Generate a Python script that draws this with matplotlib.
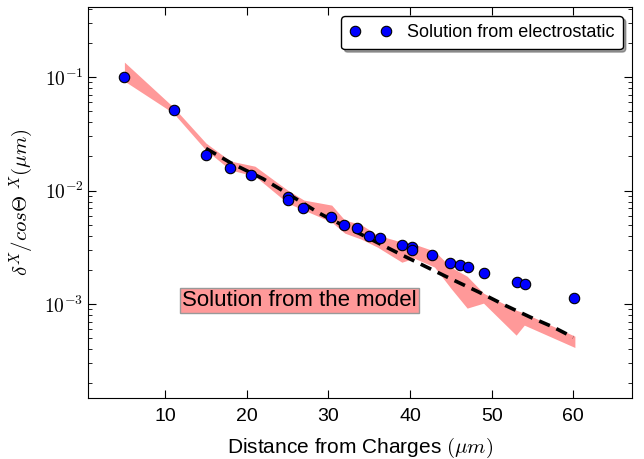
import numpy as np
import matplotlib
matplotlib.use('Agg')
import matplotlib.pyplot as plt
from matplotlib.ticker import FuncFormatter, NullFormatter

plt.rcParams['font.family'] = ['Liberation Sans', 'DejaVu Sans']
plt.rcParams['mathtext.fontset'] = 'cm'

# Solution from electrostatic (points)
dist = [5, 11.1, 15, 18, 20.5, 25, 25, 26.9, 30.3, 31.9, 33.5, 35, 36.3,
        39, 40.3, 40.3, 42.7, 44.9, 46.1, 47.1, 49.1, 53.1, 54.1, 60.1]
delta = [0.100, 0.051, 0.0205, 0.0157, 0.0137, 0.0088, 0.0082, 0.0070,
         0.0058, 0.0050, 0.00465, 0.0040, 0.0038, 0.00331, 0.00317, 0.00298,
         0.00271, 0.00231, 0.0022, 0.00212, 0.00188, 0.00156, 0.0015, 0.00114]

# Solution from the model (band)
model_x = [5, 11, 15, 18, 21, 25, 27, 30.4, 32, 34, 36, 39, 40.5, 43, 45,
           47, 49, 53, 54, 60.2]
model_hi = [0.1355, 0.0544, 0.0262, 0.0182, 0.0164, 0.0101, 0.00825, 0.00745,
            0.0055, 0.00502, 0.00405, 0.00352, 0.00338, 0.00293, 0.00212,
            0.00176, 0.00125, 0.000885, 0.000833, 0.000522]
model_lo = [0.0922, 0.0482, 0.0227, 0.0152, 0.0134, 0.00776, 0.00673, 0.00528,
            0.00422, 0.00374, 0.00318, 0.00234, 0.00254, 0.00212, 0.00138,
            0.000922, 0.00102, 0.000533, 0.000653, 0.000415]

# dashed fit
fit_x = [15, 18, 22, 25, 28.8, 30, 35, 39, 42.4, 45, 48.4, 51.6, 54.7, 57.5, 60]
fit_y = [0.0235, 0.0176, 0.0127, 0.0094, 0.00637, 0.00573, 0.00379, 0.00271,
         0.00206, 0.00167, 0.00128, 0.00098, 0.00077, 0.00063, 0.00051]

fig = plt.figure(figsize=(6.44, 4.59), dpi=100)
ax = fig.add_axes([0.1374, 0.1329, 0.8440, 0.8518])

ax.fill_between(model_x, model_lo, model_hi, color='red', alpha=0.4, linewidth=0)
ax.plot(fit_x, fit_y, color='black', linestyle='--', linewidth=2.6, dashes=(3.2, 2.0))
ax.plot(dist, delta, 'o', color='blue', markeredgecolor='black', markersize=7.5,
        markeredgewidth=0.8, label='Solution from electrostatic')

ax.set_yscale('log')
ax.set_xlim(0.6, 67.2)
ax.set_ylim(1.49e-4, 0.414)
ax.set_xticks([10, 20, 30, 40, 50, 60])
ax.yaxis.set_major_formatter(FuncFormatter(lambda v, p: r'$10^{%d}$' % round(np.log10(v))))
ax.yaxis.set_minor_formatter(NullFormatter())
ax.tick_params(which='both', direction='in', top=True, right=True)
ax.tick_params(which='major', length=6, labelsize=14)
ax.tick_params(which='minor', length=3)
ax.tick_params(axis='x', labelsize=14, pad=7)

ax.set_xlabel(r'Distance from Charges $(\mu m)$', fontsize=15, labelpad=8)
ax.set_ylabel(r'$\delta^X/cos\Theta\ ^X(\mu m)$', fontsize=15, labelpad=6)

ax.text(12.1, 0.00108, 'Solution from the model', fontsize=16, va='center',
        bbox=dict(boxstyle='square,pad=0.1', facecolor='#ff9999', edgecolor='0.6'))

ax.legend(loc='upper right', numpoints=2, fontsize=13, fancybox=True, shadow=True,
          framealpha=1, edgecolor='black', borderpad=0.45, handlelength=2.3,
          handletextpad=0.9, borderaxespad=0.5)

fig.savefig('out.png', dpi=100)
